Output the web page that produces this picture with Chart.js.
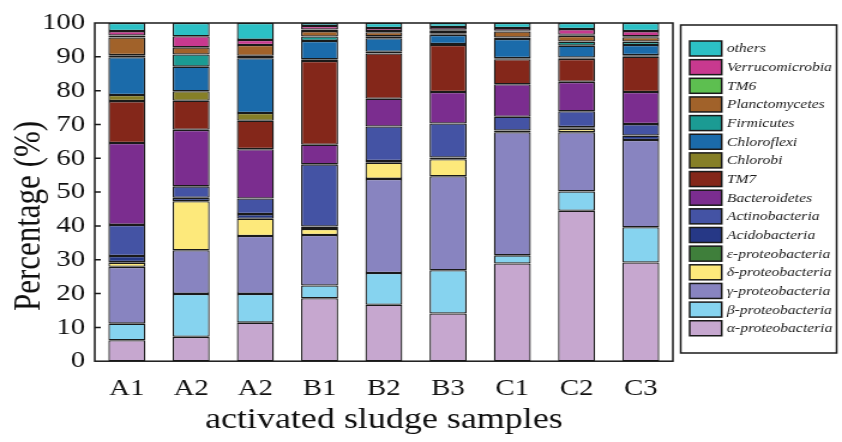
<!DOCTYPE html>
<html>
<head>
<meta charset="utf-8">
<script src="https://cdn.jsdelivr.net/npm/chart.js@4.4.1/dist/chart.umd.min.js"></script>
<style>
  html, body { margin: 0; padding: 0; background: #fff; }
</style>
</head>
<body>
<!-- the source figure is stretched ~1.2x horizontally, so the canvas is too -->
<canvas id="chart" width="702" height="442" style="display:block;width:842px;height:442px"></canvas>
<script>
const samples = ['A1', 'A2', 'A2', 'B1', 'B2', 'B3', 'C1', 'C2', 'C3'];

// percentages, bottom of the stack first
const alphaProteo     = [6.2, 7.2, 11.4, 18.6, 16.7, 14.1, 28.9, 44.5, 29.2];
const betaProteo      = [4.9, 12.7, 8.5, 3.8, 9.4, 12.8, 2.4, 5.7, 10.4];
const gammaProteo     = [16.8, 12.9, 17.1, 14.9, 27.8, 27.8, 36.4, 17.5, 25.8];
const deltaProteo     = [1.2, 14.5, 5.1, 1.8, 4.8, 5.0, 0, 1.0, 0];
const epsilonProteo   = [0.2, 0, 0, 0, 0, 0, 0, 0, 0];
const acidobacteria   = [1.8, 1.0, 1.4, 0.7, 0.5, 0.5, 0.5, 0.5, 1.3];
const actinobacteria  = [9.2, 3.4, 4.6, 18.4, 10.2, 10.1, 4.1, 4.7, 3.4];
const bacteroidetes   = [24.2, 16.7, 14.6, 5.8, 8.2, 9.3, 9.6, 8.7, 9.5];
const tm7             = [12.4, 8.6, 8.4, 24.8, 13.4, 13.9, 7.4, 6.8, 10.4];
const chlorobi        = [1.8, 2.8, 2.3, 0.5, 0.5, 0.3, 0.3, 0.4, 0.5];
const chloroflexi     = [11.2, 7.3, 16.2, 5.4, 4.0, 2.7, 5.7, 3.5, 3.0];
const firmicutes      = [0.6, 3.6, 0.7, 1.3, 0.6, 0.5, 0.4, 1.2, 1.0];
const planctomycetes  = [5.2, 2.1, 3.2, 1.6, 1.2, 0.7, 1.8, 1.7, 1.3];
const tm6             = [0.6, 0, 0, 0.5, 0.3, 0.3, 0.2, 0.3, 0.3];
const verrucomicrobia = [1.3, 3.3, 1.5, 1.0, 0.9, 0.8, 0.8, 1.7, 1.5];
const others          = [2.4, 3.9, 5.0, 0.9, 1.5, 1.2, 1.5, 1.8, 2.4];

const yTicks = [0, 10, 20, 30, 40, 50, 60, 70, 80, 90, 100];
const yTitle = 'Percentage (%)';
const xTitle = 'activated sludge samples';

const series = [
  ['α-proteobacteria', alphaProteo, '#c6a7cf'],
  ['β-proteobacteria', betaProteo, '#86d3ef'],
  ['γ-proteobacteria', gammaProteo, '#8884c0'],
  ['δ-proteobacteria', deltaProteo, '#fde97b'],
  ['ε-proteobacteria', epsilonProteo, '#3f7f3b'],
  ['Acidobacteria', acidobacteria, '#263886'],
  ['Actinobacteria', actinobacteria, '#4453a4'],
  ['Bacteroidetes', bacteroidetes, '#7b2d8f'],
  ['TM7', tm7, '#84271a'],
  ['Chlorobi', chlorobi, '#867f27'],
  ['Chloroflexi', chloroflexi, '#1b6baa'],
  ['Firmicutes', firmicutes, '#1b9b93'],
  ['Planctomycetes', planctomycetes, '#a1622a'],
  ['TM6', tm6, '#5dbf50'],
  ['Verrucomicrobia', verrucomicrobia, '#c8398f'],
  ['others', others, '#2cc0c5']
];

const serif = '"Liberation Serif", "Times New Roman", serif';

// frame, inward ticks, rotated y title and the boxed legend
const decor = {
  id: 'decor',
  afterDraw(chart) {
    const { ctx, chartArea: a, scales: { y } } = chart;
    ctx.save();
    ctx.strokeStyle = '#1a1a1a';
    ctx.lineWidth = 1.5;
    ctx.strokeRect(a.left, a.top, a.right - a.left, a.bottom - a.top);
    ctx.beginPath();
    y.ticks.forEach(t => {
      if (t.value > 0 && t.value < 100) {
        const py = y.getPixelForValue(t.value);
        ctx.moveTo(a.left, py);
        ctx.lineTo(a.left + 5, py);
      }
    });
    ctx.stroke();

    ctx.save();
    ctx.translate(25, 216);
    ctx.rotate(-Math.PI / 2);
    ctx.font = '31px ' + serif;
    ctx.fillStyle = '#111';
    ctx.textAlign = 'center';
    ctx.textBaseline = 'middle';
    ctx.fillText(yTitle, 0, 0);
    ctx.restore();

    // legend
    ctx.strokeRect(567.5, 25, 130, 328);
    ctx.font = 'italic 13px ' + serif;
    ctx.textAlign = 'left';
    ctx.textBaseline = 'middle';
    const ds = chart.data.datasets.slice().reverse();
    ds.forEach((d, i) => {
      const top = 41 + i * 18.65;
      ctx.fillStyle = d.backgroundColor;
      ctx.fillRect(575, top, 26.7, 15);
      ctx.strokeRect(575, top, 26.7, 15);
      ctx.fillStyle = '#1a1a1a';
      ctx.fillText(d.label, 606, top + 8);
    });
    ctx.restore();
  }
};

new Chart(document.getElementById('chart'), {
  type: 'bar',
  data: {
    labels: samples,
    datasets: series.map(([name, values, color]) => ({
      label: name,
      data: values,
      backgroundColor: color,
      borderColor: '#1a1a1a',
      borderWidth: 1.3,
      borderSkipped: false,
      barPercentage: 0.72,
      categoryPercentage: 0.8
    }))
  },
  options: {
    responsive: false,
    animation: false,
    devicePixelRatio: 1,
    layout: { padding: { left: 27, right: 141, top: 23, bottom: 4 } },
    plugins: {
      legend: { display: false },
      tooltip: { enabled: false }
    },
    scales: {
      x: {
        stacked: true,
        grid: { display: false, drawTicks: false },
        border: { display: false },
        ticks: { color: '#111', padding: 13, font: { family: serif, size: 24 } },
        title: {
          display: true,
          text: xTitle,
          color: '#111',
          padding: { top: -14, bottom: 0 },
          font: { family: serif, size: 30 }
        }
      },
      y: {
        stacked: true,
        min: 0,
        max: 100,
        afterBuildTicks: axis => { axis.ticks = yTicks.map(v => ({ value: v })); },
        grid: { display: false, drawTicks: false },
        border: { display: false },
        ticks: { color: '#111', padding: 8, font: { family: serif, size: 24 } }
      }
    }
  },
  plugins: [decor]
});
</script>
</body>
</html>
